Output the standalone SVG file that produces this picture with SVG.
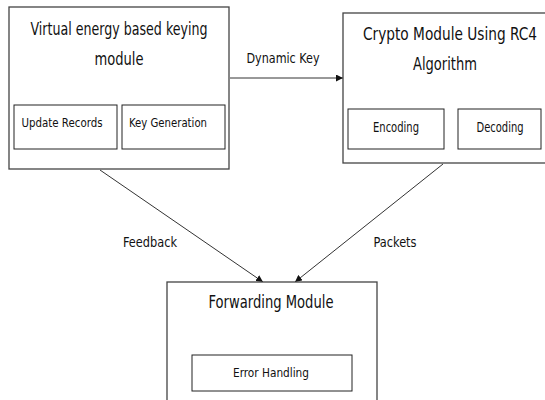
<svg xmlns="http://www.w3.org/2000/svg" width="545" height="400" viewBox="0 0 545 400">
<defs>
<style>
.box{fill:#fff;stroke:#444;stroke-width:1.3}
.inner{fill:#fff;stroke:#222;stroke-width:1}
.t{font-family:"DejaVu Sans Condensed","Liberation Sans",sans-serif;fill:#111;text-anchor:middle}
.big{font-size:17px}
.mid{font-size:14px}
.sm{font-size:13px}
.conn{stroke:#333;stroke-width:1;fill:none}
</style>
<marker id="ah" viewBox="0 0 10 10" refX="10" refY="5" markerWidth="7" markerHeight="7" orient="auto" markerUnits="userSpaceOnUse">
<path d="M0,0 L10,5 L0,10 z" fill="#111"/>
</marker>
</defs>
<rect width="545" height="400" fill="#fff"/>
<g id="connectors">
<line class="conn" x1="230" y1="78" x2="343" y2="78" marker-end="url(#ah)"/>
<line class="conn" x1="100" y1="170" x2="263" y2="282" marker-end="url(#ah)"/>
<line class="conn" x1="443" y1="164" x2="295" y2="282" marker-end="url(#ah)"/>
<text class="t mid" x="283" y="63" textLength="73" lengthAdjust="spacingAndGlyphs">Dynamic Key</text>
<text class="t mid" x="150" y="247" textLength="54" lengthAdjust="spacingAndGlyphs">Feedback</text>
<text class="t mid" x="395" y="247" textLength="43" lengthAdjust="spacingAndGlyphs">Packets</text>
</g>
<g id="vebk">
<rect class="box" x="9" y="7" width="220" height="162"/>
<text class="t big" x="119" y="35" textLength="177" lengthAdjust="spacingAndGlyphs">Virtual energy based keying</text>
<text class="t big" x="119" y="65" textLength="49" lengthAdjust="spacingAndGlyphs">module</text>
</g>
<g id="update-records">
<rect class="inner" x="14" y="105" width="103" height="44"/>
<text class="t sm" x="62" y="127" textLength="81" lengthAdjust="spacingAndGlyphs">Update Records</text>
</g>
<g id="key-generation">
<rect class="inner" x="122" y="105" width="103" height="44"/>
<text class="t sm" x="168" y="127" textLength="78" lengthAdjust="spacingAndGlyphs">Key Generation</text>
</g>
<g id="crypto">
<rect class="box" x="343" y="13" width="210" height="150"/>
<text class="t big" x="450" y="40" textLength="174" lengthAdjust="spacingAndGlyphs">Crypto Module Using RC4</text>
<text class="t big" x="445" y="70" textLength="64" lengthAdjust="spacingAndGlyphs">Algorithm</text>
</g>
<g id="encoding">
<rect class="inner" x="348" y="109" width="96" height="40"/>
<text class="t mid" x="396" y="132" textLength="46" lengthAdjust="spacingAndGlyphs">Encoding</text>
</g>
<g id="decoding">
<rect class="inner" x="458" y="109" width="83" height="40"/>
<text class="t mid" x="500" y="132" textLength="47" lengthAdjust="spacingAndGlyphs">Decoding</text>
</g>
<g id="forwarding">
<rect class="box" x="167" y="282" width="210" height="130"/>
<text class="t big" x="271" y="308" textLength="125" lengthAdjust="spacingAndGlyphs">Forwarding Module</text>
</g>
<g id="error-handling">
<rect class="inner" x="192" y="355" width="160" height="36"/>
<text class="t sm" x="271" y="377" textLength="76" lengthAdjust="spacingAndGlyphs">Error Handling</text>
</g>
</svg>
